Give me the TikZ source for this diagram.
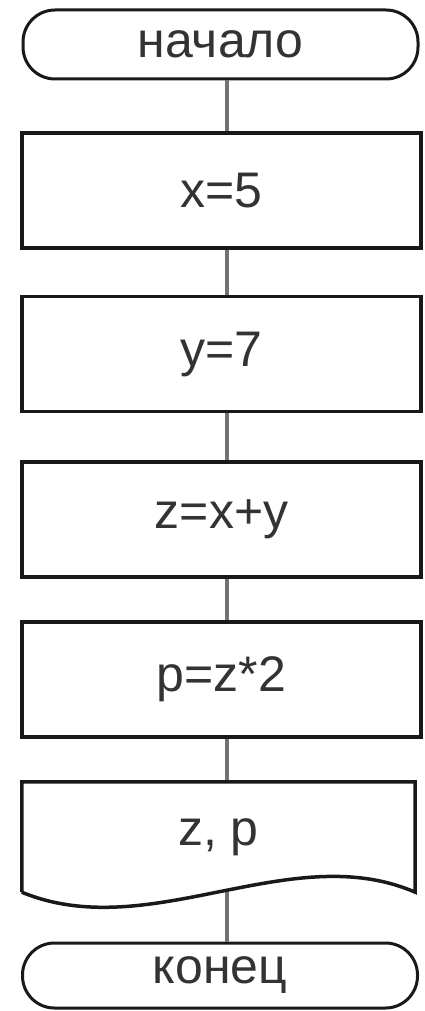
\documentclass[tikz,border=0pt]{standalone}
\usepackage{fontspec}
\setmainfont{Liberation Sans}
\begin{document}
\begin{tikzpicture}[x=1pt,y=-1pt,
  every node/.style={font=\fontsize{50}{60}\selectfont, text=black!80},
  procbox/.style={draw=black!90, line width=3.5pt, fill=white, minimum width=399pt, minimum height=115pt, inner sep=0pt},
  termbox/.style={draw=black!90, line width=3pt, fill=white, rounded corners=32pt, minimum width=395pt, inner sep=0pt},
  conn/.style={draw=black!55, line width=4pt}]
\useasboundingbox (0,0) rectangle (425,1011);
\node[termbox, minimum height=69pt] (start) at (220.5,44.5) {начало};
\node[procbox] (b1) at (221.5,190.5) {x=5};
\node[procbox] (b2) at (221.5,354) {y=7};
\node[procbox] (b3) at (221.5,519.5) {z=x+y};
\node[procbox] (b4) at (221.5,679.5) {p=z*2};
\node[minimum width=393pt, minimum height=110pt, inner sep=0pt] (doc) at (218.5,837) {z, p};
\node[termbox, minimum height=65pt] (end) at (220,975.5) {конец};
\coordinate (docb) at (227,889);
% connectors
\draw[conn] ([xshift=6.5pt]start.south) -- ([xshift=5.5pt]b1.north);
\draw[conn] ([xshift=5.5pt]b1.south) -- ([xshift=5.5pt]b2.north);
\draw[conn] ([xshift=5.5pt]b2.south) -- ([xshift=5.5pt]b3.north);
\draw[conn] ([xshift=5.5pt]b3.south) -- ([xshift=5.5pt]b4.north);
\draw[conn] ([xshift=5.5pt]b4.south) -- (doc.north -| docb);
\draw[conn] (docb) -- (end.north -| docb);
% document shape
\draw[black!90, line width=3.5pt, line join=miter]
  (doc.south west) -- (doc.north west) -- (doc.north east) -- (doc.south east)
  .. controls (290,838) and (150,945) .. (doc.south west);
\end{tikzpicture}
\end{document}
